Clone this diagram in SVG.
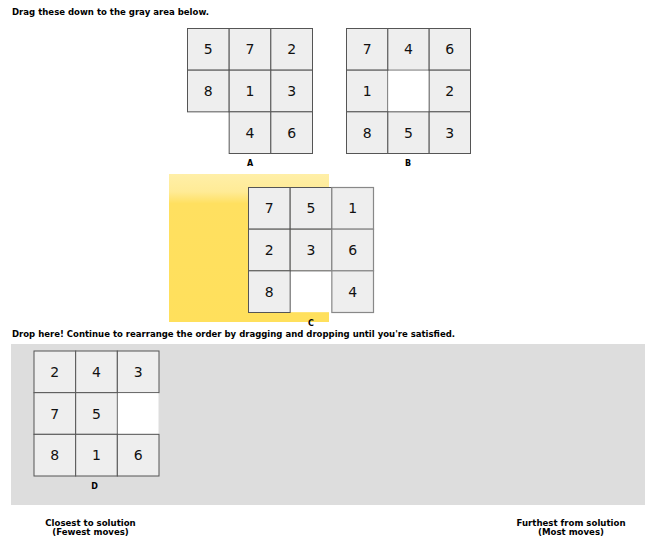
<svg xmlns="http://www.w3.org/2000/svg" width="647" height="540" viewBox="0 0 647 540">
<defs>
<linearGradient id="yel" x1="0" y1="0" x2="0" y2="1">
<stop offset="0" stop-color="#FFEFA8"/>
<stop offset="0.12" stop-color="#FFEB96"/>
<stop offset="0.2" stop-color="#FFE060"/>
<stop offset="1" stop-color="#FFE05C"/>
</linearGradient>
</defs>
<style>
.t{font-family:"DejaVu Sans",Verdana,sans-serif;font-weight:bold;font-size:8.6px;fill:#000}
.lbl{font-family:"DejaVu Sans",Verdana,sans-serif;font-weight:bold;font-size:8px;fill:#000;text-anchor:middle}
.c{fill:#EEEEEE;stroke:#555555;stroke-width:1}
.cl{fill:#EEEEEE;stroke:#888888;stroke-width:1.2}
.e{fill:#FFFFFF;stroke:none}
.n{font-family:"DejaVu Sans",Verdana,sans-serif;font-size:14px;fill:#111;text-anchor:middle;dominant-baseline:central}
</style>
<rect width="647" height="540" fill="#FFFFFF"/>
<text class="t" x="12" y="15" textLength="197" lengthAdjust="spacingAndGlyphs">Drag these down to the gray area below.</text>

<g id="puzzleA">
<rect class="c" x="187.5" y="28.5" width="41.67" height="41.67"/>
<rect class="c" x="229.17" y="28.5" width="41.67" height="41.67"/>
<rect class="c" x="270.83" y="28.5" width="41.67" height="41.67"/>
<rect class="c" x="187.5" y="70.17" width="41.67" height="41.67"/>
<rect class="c" x="229.17" y="70.17" width="41.67" height="41.67"/>
<rect class="c" x="270.83" y="70.17" width="41.67" height="41.67"/>
<rect class="c" x="229.17" y="111.83" width="41.67" height="41.67"/>
<rect class="c" x="270.83" y="111.83" width="41.67" height="41.67"/>
<text class="n" x="208.3" y="49.3">5</text>
<text class="n" x="250" y="49.3">7</text>
<text class="n" x="291.7" y="49.3">2</text>
<text class="n" x="208.3" y="91">8</text>
<text class="n" x="250" y="91">1</text>
<text class="n" x="291.7" y="91">3</text>
<text class="n" x="250" y="132.7">4</text>
<text class="n" x="291.7" y="132.7">6</text>
<text class="lbl" x="250" y="166">A</text>
</g>

<g id="puzzleB">
<rect class="c" x="346.5" y="28.5" width="41.33" height="41.67"/>
<rect class="c" x="387.83" y="28.5" width="41.33" height="41.67"/>
<rect class="c" x="429.17" y="28.5" width="41.33" height="41.67"/>
<rect class="c" x="346.5" y="70.17" width="41.33" height="41.67"/>
<rect class="e" x="388.33" y="70.67" width="40.33" height="40.67"/>
<rect class="c" x="429.17" y="70.17" width="41.33" height="41.67"/>
<rect class="c" x="346.5" y="111.83" width="41.33" height="41.67"/>
<rect class="c" x="387.83" y="111.83" width="41.33" height="41.67"/>
<rect class="c" x="429.17" y="111.83" width="41.33" height="41.67"/>
<text class="n" x="367.2" y="49.3">7</text>
<text class="n" x="408.5" y="49.3">4</text>
<text class="n" x="449.8" y="49.3">6</text>
<text class="n" x="367.2" y="91">1</text>
<text class="n" x="449.8" y="91">2</text>
<text class="n" x="367.2" y="132.7">8</text>
<text class="n" x="408.5" y="132.7">5</text>
<text class="n" x="449.8" y="132.7">3</text>
<text class="lbl" x="408" y="166">B</text>
</g>

<g id="dropHighlight">
<rect x="169" y="174" width="160" height="148" fill="url(#yel)"/>
</g>

<g id="puzzleC">
<rect class="e" x="290" y="270.5" width="41.67" height="41.67"/>
<rect class="c" x="248.5" y="187.5" width="41.67" height="41.67"/>
<rect class="c" x="290.17" y="187.5" width="41.67" height="41.67"/>
<rect class="cl" x="331.83" y="187.5" width="41.67" height="41.67"/>
<rect class="c" x="248.5" y="229.17" width="41.67" height="41.67"/>
<rect class="c" x="290.17" y="229.17" width="41.67" height="41.67"/>
<rect class="cl" x="331.83" y="229.17" width="41.67" height="41.67"/>
<rect class="c" x="248.5" y="270.83" width="41.67" height="41.67"/>
<rect class="cl" x="331.83" y="270.83" width="41.67" height="41.67"/>
<text class="n" x="269.3" y="208.3">7</text>
<text class="n" x="311" y="208.3">5</text>
<text class="n" x="352.7" y="208.3">1</text>
<text class="n" x="269.3" y="250">2</text>
<text class="n" x="311" y="250">3</text>
<text class="n" x="352.7" y="250">6</text>
<text class="n" x="269.3" y="291.7">8</text>
<text class="n" x="352.7" y="291.7">4</text>
<text class="lbl" x="311" y="326">C</text>
</g>

<text class="t" x="12" y="337" textLength="443" lengthAdjust="spacingAndGlyphs">Drop here! Continue to rearrange the order by dragging and dropping until you're satisfied.</text>

<g id="dropArea">
<rect x="11" y="344" width="634" height="161" fill="#DDDDDD"/>
</g>

<g id="puzzleD">
<rect class="c" x="34" y="351" width="41.67" height="41.67"/>
<rect class="c" x="75.67" y="351" width="41.67" height="41.67"/>
<rect class="c" x="117.33" y="351" width="41.67" height="41.67"/>
<rect class="c" x="34" y="392.67" width="41.67" height="41.67"/>
<rect class="c" x="75.67" y="392.67" width="41.67" height="41.67"/>
<rect class="e" x="117.83" y="393.17" width="40.67" height="40.67"/>
<rect class="c" x="34" y="434.33" width="41.67" height="41.67"/>
<rect class="c" x="75.67" y="434.33" width="41.67" height="41.67"/>
<rect class="c" x="117.33" y="434.33" width="41.67" height="41.67"/>
<text class="n" x="54.8" y="371.8">2</text>
<text class="n" x="96.5" y="371.8">4</text>
<text class="n" x="138.2" y="371.8">3</text>
<text class="n" x="54.8" y="413.5">7</text>
<text class="n" x="96.5" y="413.5">5</text>
<text class="n" x="54.8" y="455.2">8</text>
<text class="n" x="96.5" y="455.2">1</text>
<text class="n" x="138.2" y="455.2">6</text>
<text class="lbl" x="94.5" y="489">D</text>
</g>

<text class="t" x="90.5" y="526" text-anchor="middle">Closest to solution</text>
<text class="t" x="90.5" y="535" text-anchor="middle">(Fewest moves)</text>
<text class="t" x="571" y="526" text-anchor="middle">Furthest from solution</text>
<text class="t" x="571" y="535" text-anchor="middle">(Most moves)</text>
</svg>
